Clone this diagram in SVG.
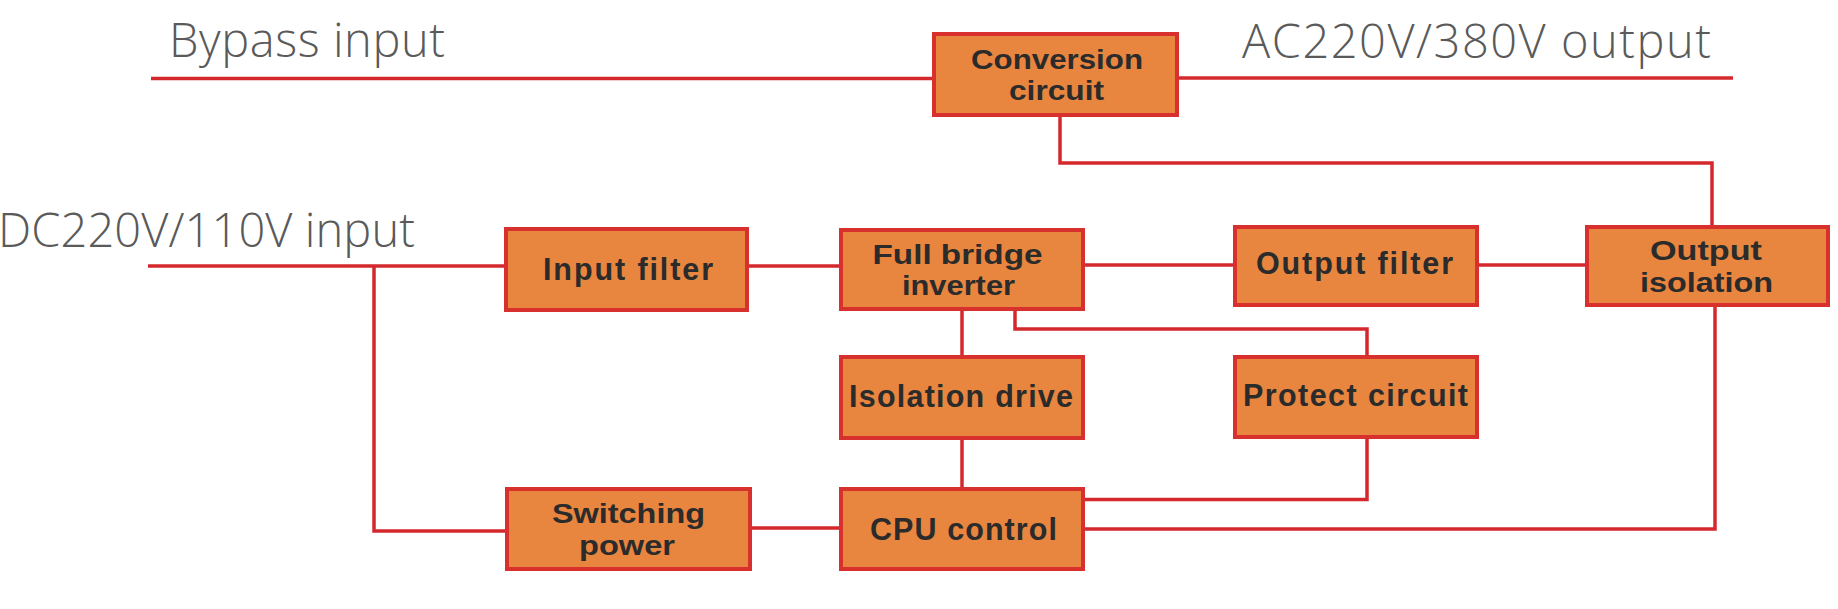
<svg xmlns="http://www.w3.org/2000/svg" width="1838" height="609" viewBox="0 0 1838 609">
<style>
.bg{fill:#ffffff}
.box{fill:#e8853f;stroke:#d8302c;stroke-width:4}
.bt{font-family:"Liberation Sans",Arial,sans-serif;font-weight:700;font-size:28px;fill:#2b2b2b;text-anchor:middle}
.bt1{font-size:30.5px}
.lbl{font-family:"Open Sans","Liberation Sans",sans-serif;font-weight:300;font-size:47px;fill:#5a5a5a}
.wire{fill:none;stroke:#d4282d;stroke-width:3.5}
</style>
<rect class="bg" x="0" y="0" width="1838" height="609"/>
<g id="labels">
<text class="lbl" x="169" y="57" textLength="276">Bypass input</text>
<text class="lbl" x="-2" y="247" textLength="417">DC220V/110V input</text>
<text class="lbl" x="1242" y="58" textLength="469">AC220V/380V output</text>
</g>
<g id="connectors">
<path class="wire" d="M151,78.5 H934"/>
<path class="wire" d="M1177,78 H1733"/>
<path class="wire" d="M1060,115 V163 H1712 V227"/>
<path class="wire" d="M148,266 H506"/>
<path class="wire" d="M374,266 V531 H507"/>
<path class="wire" d="M747,266 H841"/>
<path class="wire" d="M1083,265 H1235"/>
<path class="wire" d="M1477,265 H1587"/>
<path class="wire" d="M962,309 V357"/>
<path class="wire" d="M1015,309 V329 H1367 V357"/>
<path class="wire" d="M962,438 V489"/>
<path class="wire" d="M1367,437 V499.5 H1083"/>
<path class="wire" d="M1083,529 H1715 V305"/>
<path class="wire" d="M750,528 H841"/>
</g>
<g id="conversion-circuit">
<rect class="box" x="934" y="34" width="243" height="81"/>
<text class="bt" x="1057" y="68.6" textLength="172" lengthAdjust="spacingAndGlyphs">Conversion</text>
<text class="bt" x="1056.5" y="100.1" textLength="95" lengthAdjust="spacingAndGlyphs">circuit</text>
</g>
<g id="input-filter">
<rect class="box" x="506" y="229" width="241" height="81"/>
<text class="bt bt1" x="628" y="280" textLength="170">Input filter</text>
</g>
<g id="full-bridge-inverter">
<rect class="box" x="841" y="230" width="242" height="79"/>
<text class="bt" x="957.5" y="263.6" textLength="170" lengthAdjust="spacingAndGlyphs">Full bridge</text>
<text class="bt" x="958.5" y="295.1" textLength="113" lengthAdjust="spacingAndGlyphs">inverter</text>
</g>
<g id="output-filter">
<rect class="box" x="1235" y="227" width="242" height="78"/>
<text class="bt bt1" x="1354.5" y="274" textLength="197">Output filter</text>
</g>
<g id="output-isolation">
<rect class="box" x="1587" y="227" width="241" height="78"/>
<text class="bt" x="1706" y="260.1" textLength="112" lengthAdjust="spacingAndGlyphs">Output</text>
<text class="bt" x="1706.5" y="291.6" textLength="133" lengthAdjust="spacingAndGlyphs">isolation</text>
</g>
<g id="isolation-drive">
<rect class="box" x="841" y="357" width="242" height="81"/>
<text class="bt bt1" x="961" y="406.5" textLength="224">Isolation drive</text>
</g>
<g id="protect-circuit">
<rect class="box" x="1235" y="357" width="242" height="80"/>
<text class="bt bt1" x="1355.5" y="405.5" textLength="225">Protect circuit</text>
</g>
<g id="switching-power">
<rect class="box" x="507" y="489" width="243" height="80"/>
<text class="bt" x="628.5" y="523.1" textLength="153" lengthAdjust="spacingAndGlyphs">Switching</text>
<text class="bt" x="627" y="554.6" textLength="96" lengthAdjust="spacingAndGlyphs">power</text>
</g>
<g id="cpu-control">
<rect class="box" x="841" y="489" width="242" height="80"/>
<text class="bt bt1" x="963.5" y="540" textLength="187">CPU control</text>
</g>
</svg>
